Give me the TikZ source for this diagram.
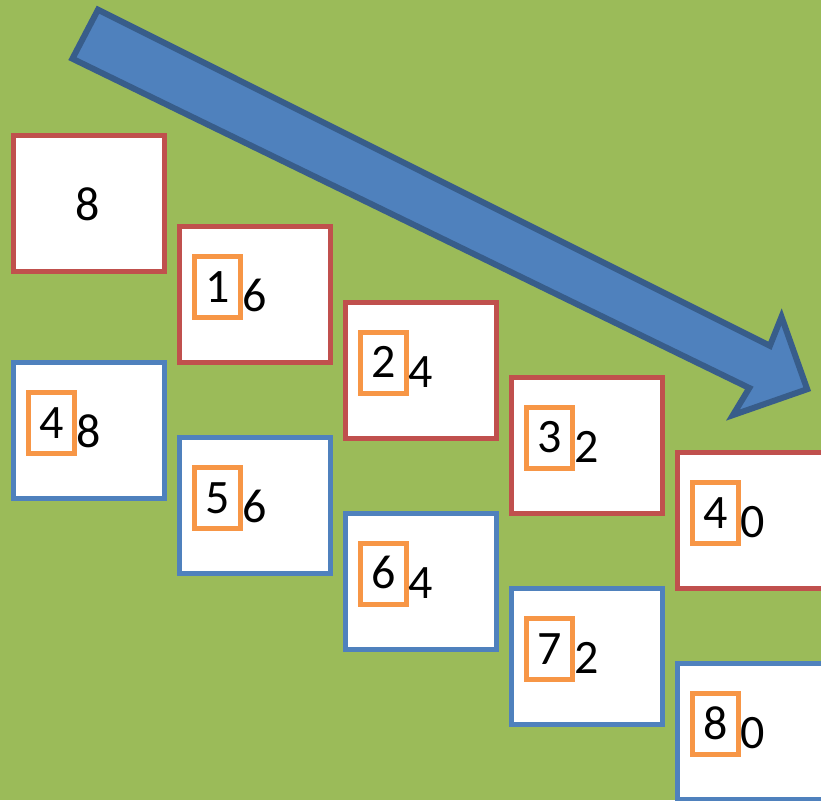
\documentclass[tikz,border=0pt]{standalone}
\usepackage{fontspec}
\setmainfont{Carlito}
\usepackage{tikz}
\usepackage{xcolor}
\definecolor{BgGreen}{HTML}{9BBB59}
\definecolor{RowRed}{HTML}{C0504D}
\definecolor{RowBlue}{HTML}{4F81BD}
\definecolor{MarkOrange}{HTML}{F79646}
\definecolor{ArrowEdge}{HTML}{385D8A}

\begin{document}
\begin{tikzpicture}[x=1pt, y=-1pt,
    cell/.style={draw=#1, fill=white, line width=5pt, minimum width=150.5pt,
      minimum height=136pt, inner sep=0pt, outer sep=0pt, anchor=north west},
    markbox/.style={draw=MarkOrange, line width=5pt, minimum width=45.5pt,
      minimum height=61pt, inner sep=0pt, outer sep=0pt, anchor=north west},
    digit/.style={anchor=base, inner sep=0pt, font=\fontsize{48}{48}\selectfont}]
  \useasboundingbox (0,0) rectangle (821,800);
  \clip (0,0) rectangle (821,800);
  \fill[BgGreen] (0,0) rectangle (821,800);
  % big arrow
  \draw[fill=RowBlue, draw=ArrowEdge, line width=6pt, line join=miter]
    (98,9.7) -- (769.9,345.8) -- (781.5,316.8) -- (807.2,389.2)
    -- (732.9,415.1) -- (749.3,388) -- (72.4,58.7) -- cycle;
  % first box
  \node[cell=RowRed] (cell0) at (13.5,135.5) {};
  \node[digit] (snd0) at (88,220) {8};
  % other boxes
  \foreach \c/\t/\a/\b/\col [count=\i] in {
    1/226.7/1/6/RowRed,
    2/302/2/4/RowRed,
    3/377.3/3/2/RowRed,
    4/452.7/4/0/RowRed,
    0/362.5/4/8/RowBlue,
    1/437.8/5/6/RowBlue,
    2/513.2/6/4/RowBlue,
    3/588.5/7/2/RowBlue,
    4/663.8/8/0/RowBlue} {
    \pgfmathsetmacro\xx{13.5+166*\c}
    \node[cell=\col] (cell\i) at (\xx,\t) {};
    \node[markbox] (mk\i) at (\xx+15,\t+30) {};
    \node[digit] (fst\i) at (\xx+37.8,\t+75.5) {\a};
    \node[digit] (snd\i) at (\xx+75,\t+85) {\b};
  }
\end{tikzpicture}
\end{document}
